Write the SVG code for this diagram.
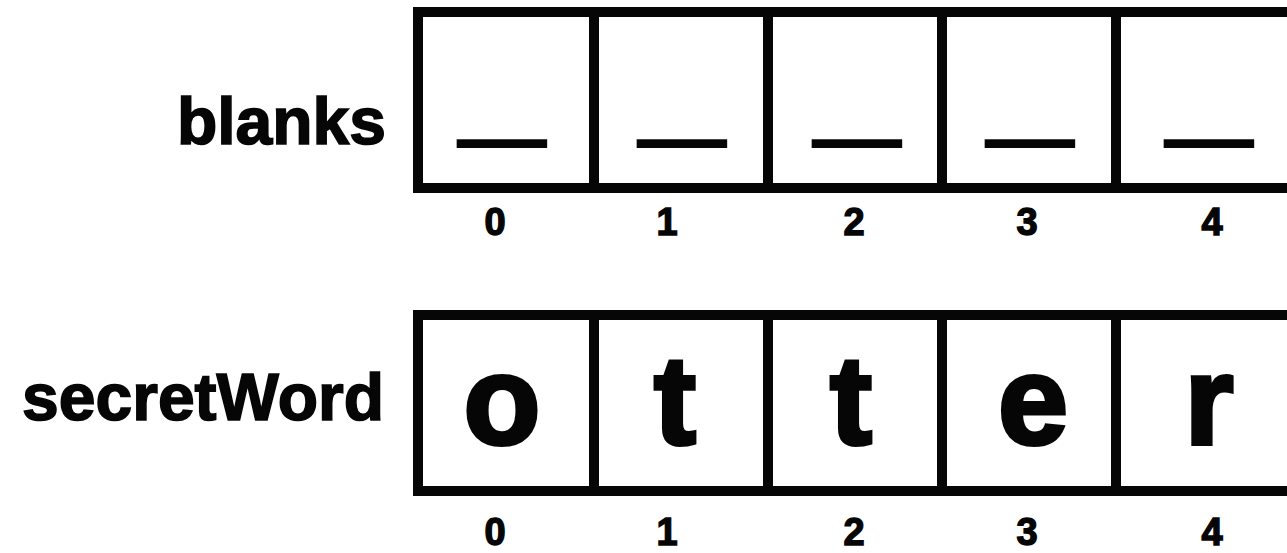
<svg xmlns="http://www.w3.org/2000/svg" width="1287" height="553" viewBox="0 0 1287 553">
<style>
.box{fill:#fff;stroke:#060606;stroke-width:10}
.div{stroke:#060606;stroke-width:10}
.lbl{font-family:"Liberation Sans",Arial,sans-serif;font-weight:bold;font-size:66px;fill:#060606;stroke:#060606;stroke-width:1.6;text-anchor:end}
.idx{font-family:"Liberation Sans",Arial,sans-serif;font-weight:bold;font-size:38px;fill:#060606;stroke:#060606;stroke-width:1.4;text-anchor:middle}
.ch{font-family:"Liberation Sans",Arial,sans-serif;font-weight:bold;font-size:126px;fill:#060606;stroke:#060606;stroke-width:4;text-anchor:middle}
.us{font-family:"Liberation Sans",Arial,sans-serif;font-weight:bold;font-size:125px;fill:#060606;stroke:#060606;stroke-width:4;text-anchor:middle}
</style>
<rect width="1287" height="553" fill="#fff"/>
<g id="blanks">
  <text class="lbl" x="386" y="144">blanks</text>
  <rect class="box" x="418" y="12" width="880" height="176"/>
  <g id="blanks-0"><text class="us" x="502" y="131" textLength="83" lengthAdjust="spacingAndGlyphs">_</text><text class="idx" x="495" y="235">0</text></g>
  <g id="blanks-1"><line class="div" x1="594" y1="12" x2="594" y2="188"/><text class="us" x="682" y="131" textLength="83" lengthAdjust="spacingAndGlyphs">_</text><text class="idx" x="667" y="235">1</text></g>
  <g id="blanks-2"><line class="div" x1="768" y1="12" x2="768" y2="188"/><text class="us" x="857" y="131" textLength="83" lengthAdjust="spacingAndGlyphs">_</text><text class="idx" x="854" y="235">2</text></g>
  <g id="blanks-3"><line class="div" x1="942" y1="12" x2="942" y2="188"/><text class="us" x="1030" y="131" textLength="83" lengthAdjust="spacingAndGlyphs">_</text><text class="idx" x="1027" y="235">3</text></g>
  <g id="blanks-4"><line class="div" x1="1116" y1="12" x2="1116" y2="188"/><text class="us" x="1209" y="131" textLength="83" lengthAdjust="spacingAndGlyphs">_</text><text class="idx" x="1212" y="235">4</text></g>
</g>
<g id="secretWord">
  <text class="lbl" x="384" y="420">secretWord</text>
  <rect class="box" x="418" y="315" width="880" height="176"/>
  <g id="secretWord-0"><text class="ch" x="502" y="444">o</text><text class="idx" x="495" y="545">0</text></g>
  <g id="secretWord-1"><line class="div" x1="594" y1="315" x2="594" y2="491"/><text class="ch" x="675" y="444">t</text><text class="idx" x="667" y="545">1</text></g>
  <g id="secretWord-2"><line class="div" x1="768" y1="315" x2="768" y2="491"/><text class="ch" x="851" y="444">t</text><text class="idx" x="854" y="545">2</text></g>
  <g id="secretWord-3"><line class="div" x1="942" y1="315" x2="942" y2="491"/><text class="ch" x="1033" y="444">e</text><text class="idx" x="1027" y="545">3</text></g>
  <g id="secretWord-4"><line class="div" x1="1116" y1="315" x2="1116" y2="491"/><text class="ch" x="1209" y="444">r</text><text class="idx" x="1212" y="545">4</text></g>
</g>
<g id="connectors"/>
</svg>
